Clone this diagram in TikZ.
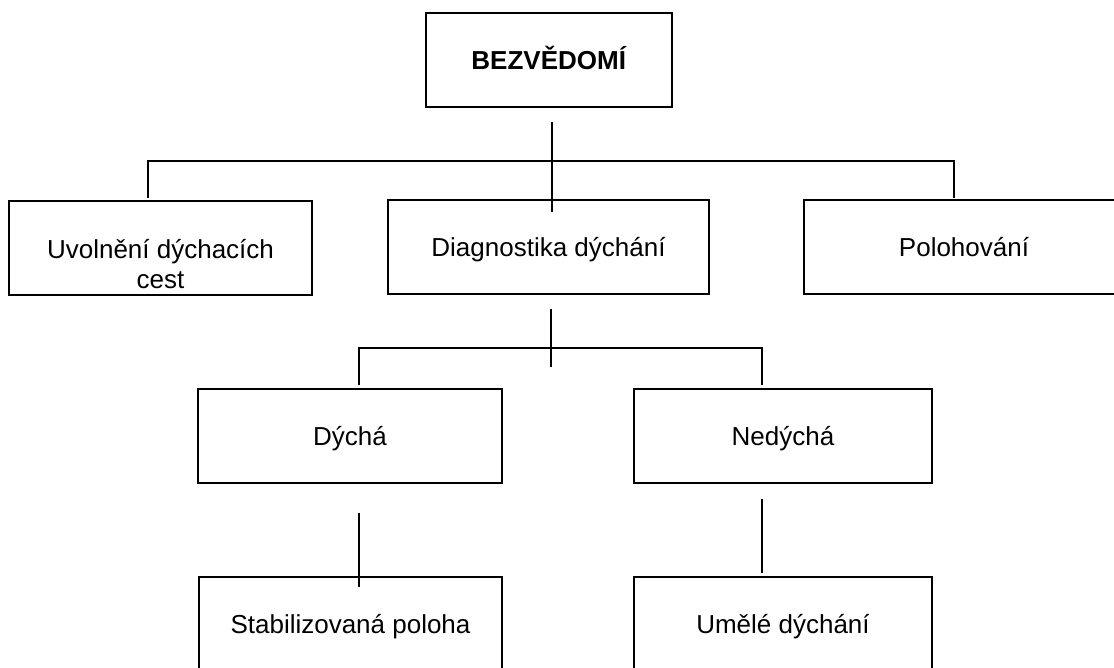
\documentclass[tikz,border=0pt]{standalone}
\usepackage{fontspec}
\setmainfont{Liberation Sans}
\usetikzlibrary{calc}

\begin{document}
\begin{tikzpicture}[x=0.5pt,y=-0.5pt,
	box/.style={draw,line width=1pt,inner sep=0pt,minimum height=47pt,text height=12pt,text depth=2.5pt,font=\fontsize{13}{15}\selectfont},
	link/.style={line width=0.55pt}]
	\useasboundingbox (0,0) rectangle (1114,668);
	\clip (0,0) rectangle (1114,668);

	\draw (549,60) node (bez) [box,minimum width=123pt] {\textbf{BEZVĚDOMÍ}};
	\draw (160.5,248) node (uvol) [box,minimum width=151.5pt,
		label={[align=center,font=\fontsize{13}{15}\selectfont,yshift=-8pt]center:Uvolnění dýchacích\\cest}] {};
	\draw (548.5,247.5) node (diag) [box,minimum width=160.5pt] {Diagnostika dýchání};
	\draw (964,247.5) node (polo) [box,minimum width=160pt] {Polohování};
	\draw (350,436) node (dych) [box,minimum width=152pt] {Dýchá};
	\draw (783,436) node (nedych) [box,minimum width=149pt] {Nedýchá};
	\draw (350.5,623.5) node (stab) [box,minimum width=151.5pt] {Stabilizovaná poloha};
	\draw (783,623.5) node (umele) [box,minimum width=149pt] {Umělé dýchání};

	\draw[link] ($(bez.south)+(3,14)$) -- ($(diag.north)+(3.5,12.5)$);
	\draw[link] ($(uvol.north)+(-12.5,-1.5)$) |- ($(bez.south)+(3,53)$) -| ($(polo.north)+(-10,-1.5)$);

	\draw[link] ($(diag.south)+(2.5,14)$) -- ($(diag.south)+(2.5,71)$);
	\draw[link] ($(dych.north)+(9,-3)$) |- ($(diag.south)+(2.5,52.5)$) -| ($(nedych.north)+(-21,-3)$);

	\draw[link] ($(dych.south)+(9,29)$) -- ($(stab.north)+(8.5,11)$);
	\draw[link] ($(nedych.south)+(-21,15)$) -- ($(umele.north)+(-21,-3)$);
\end{tikzpicture}
\end{document}
